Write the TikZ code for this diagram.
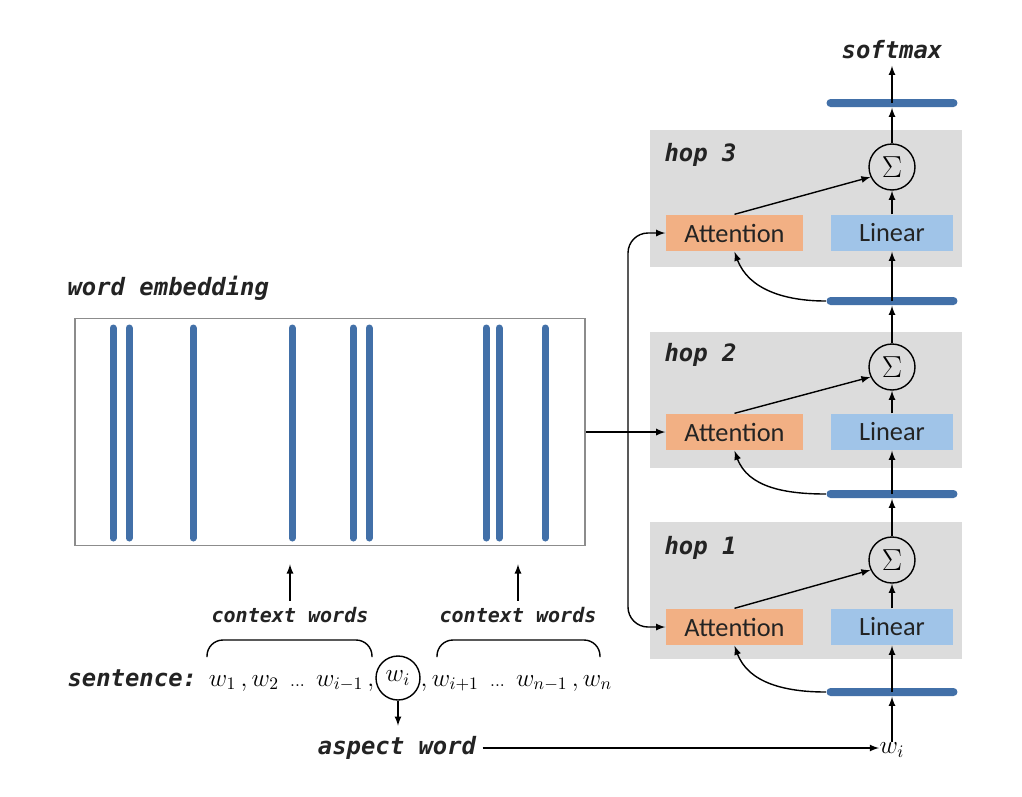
\documentclass[tikz,border=0pt]{standalone}
\usepackage{fontspec}
\usepackage{amsmath}
\usepackage{tikz}
\usetikzlibrary{arrows, shapes, positioning}
\newfontfamily\calib{Carlito}
\newfontfamily\tagfont{DejaVu Sans Mono Bold Oblique}
\definecolor{BarBlau}{RGB}{66,112,168}
\definecolor{HopGrau}{RGB}{220,220,220}
\definecolor{AttOrange}{RGB}{242,176,132}
\definecolor{LinBlau}{RGB}{160,196,232}
\definecolor{EmbGrau}{RGB}{140,140,140}
\definecolor{TextGrau}{RGB}{35,35,35}
\tikzset{
    hopbox/.style={fill=HopGrau, minimum width=6.24cm, minimum height=2.74cm, inner sep=0},
    attbox/.style={fill=AttOrange, minimum width=2.74cm, minimum height=0.72cm, inner sep=0, text=TextGrau, font=\calib\fontsize{15}{18}\selectfont},
    linbox/.style={fill=LinBlau, minimum width=2.44cm, minimum height=0.72cm, inner sep=0, text=TextGrau, font=\calib\fontsize{15}{18}\selectfont},
    sumnode/.style={circle, draw, minimum size=0.92cm, inner sep=0, font=\fontsize{16}{18}\selectfont},
    vecbar/.style={fill=BarBlau, rounded corners=0.08cm, minimum width=2.62cm, minimum height=0.16cm, inner sep=0},
    tag/.style={text=TextGrau, font=\tagfont\fontsize{13.6}{16}\selectfont},
    ctxtag/.style={text=TextGrau, font=\tagfont\fontsize{11.4}{14}\selectfont},
    wordtxt/.style={font=\fontsize{14}{16}\selectfont, inner sep=0},
}
\newcommand{\fewdots}{\;\,{\scriptstyle\ldots}\;\,}

\begin{document}
\begin{tikzpicture}[x=0.02cm, y=-0.02cm, line width=0.8pt, >={latex}]
    \useasboundingbox (0,0) rectangle (1022,796);

    % hops
    \node[hopbox] (hop3) at (806,198.5) {};
    \node[hopbox] (hop2) at (806,400)   {};
    \node[hopbox] (hop1) at (806,590.5) {};
    \node[tag, anchor=west] (hop3lbl) at (658,155) {hop 3};
    \node[tag, anchor=west] (hop2lbl) at (658,355) {hop 2};
    \node[tag, anchor=west] (hop1lbl) at (658,548) {hop 1};

    \node[attbox] (att3) at (734.5,233) {Attention};
    \node[attbox] (att2) at (734.5,432) {Attention};
    \node[attbox] (att1) at (734.5,627) {Attention};
    \node[linbox] (lin3) at (892,233) {Linear};
    \node[linbox] (lin2) at (892,432) {Linear};
    \node[linbox] (lin1) at (892,627) {Linear};
    \node[sumnode] (sum3) at (892,167) {$\Sigma$};
    \node[sumnode] (sum2) at (892,367) {$\Sigma$};
    \node[sumnode] (sum1) at (892,560) {$\Sigma$};

    \node[vecbar] (bar4) at (892,103) {};
    \node[vecbar] (bar3) at (892,301) {};
    \node[vecbar] (bar2) at (892,494) {};
    \node[vecbar] (bar1) at (892,692) {};

    \node[tag] (soft) at (892,50) {softmax};
    \node[wordtxt] (wbot) at (892,750) {$w_i$};

    \draw[->] (wbot.north) -- (bar1.south);
    \draw[->] (bar1.center) -- (lin1.south);
    \draw[->] (lin1.north) -- (sum1.south);
    \draw[->] (sum1.north) -- (bar2.south);
    \draw[->] (bar2.center) -- (lin2.south);
    \draw[->] (lin2.north) -- (sum2.south);
    \draw[->] (sum2.north) -- (bar3.south);
    \draw[->] (bar3.center) -- (lin3.south);
    \draw[->] (lin3.north) -- (sum3.south);
    \draw[->] (sum3.north) -- (bar4.south);
    \draw[->] (bar4.center) -- (soft.south);

    \draw[->] (att1.north) -- (sum1.205);
    \draw[->] (att2.north) -- (sum2.205);
    \draw[->] (att3.north) -- (sum3.205);
    \draw[->] (bar1.west) to[out=180, in=-70] (att1.south);
    \draw[->] (bar2.west) to[out=180, in=-70] (att2.south);
    \draw[->] (bar3.west) to[out=180, in=-70] (att3.south);

    % word embedding
    \node[tag, anchor=west] (emblbl) at (61,288) {word embedding};
    \node[draw=EmbGrau, line width=1pt, minimum width=10.2cm, minimum height=4.54cm, inner sep=0] (emb) at (330,432) {};
    \foreach \x in {113,129,193,292,353,369,486,499,545}
        \draw[BarBlau, line width=0.14cm, line cap=round] (\x,328) -- (\x,538);

    \coordinate (split) at (628,432);
    \draw[->] (emb.east) -- (att2.west);
    \draw[->, rounded corners=0.4cm] (split) |- (att3.west);
    \draw[->, rounded corners=0.4cm] (split) |- (att1.west);

    % sentence
    \node[ctxtag] (ctxl) at (290,615) {context words};
    \node[ctxtag] (ctxr) at (518,615) {context words};
    \draw[->] (ctxl.north) -- ([yshift=-0.36cm]ctxl.north |- emb.south);
    \draw[->] (ctxr.north) -- ([yshift=-0.36cm]ctxr.north |- emb.south);
    \draw[rounded corners=0.32cm] (207,657) -- (207,640) -- (372,640) -- (372,657);
    \draw[rounded corners=0.32cm] (437,657) -- (437,640) -- (600,640) -- (600,657);

    \node[tag, anchor=west] (sent) at (61,678) {sentence:};
    \node[wordtxt, anchor=base east] (lgrp) at (375,686) {$w_1\,,w_2\fewdots w_{i-1}\,,$};
    \node[circle, draw, minimum size=0.88cm, inner sep=0, font=\fontsize{14}{16}\selectfont] (wi) at (398,678) {$w_i$};
    \node[wordtxt, anchor=base west] (rgrp) at (420,686) {$,w_{i+1}\fewdots w_{n-1}\,,w_n$};

    \node[tag] (aspect) at (397,748) {aspect word};
    \draw[->] (wi.south) -- ([yshift=-0.5cm]wi.south);
    \draw[->] (aspect.east) -- (aspect.east -| wbot.west);
\end{tikzpicture}
\end{document}
